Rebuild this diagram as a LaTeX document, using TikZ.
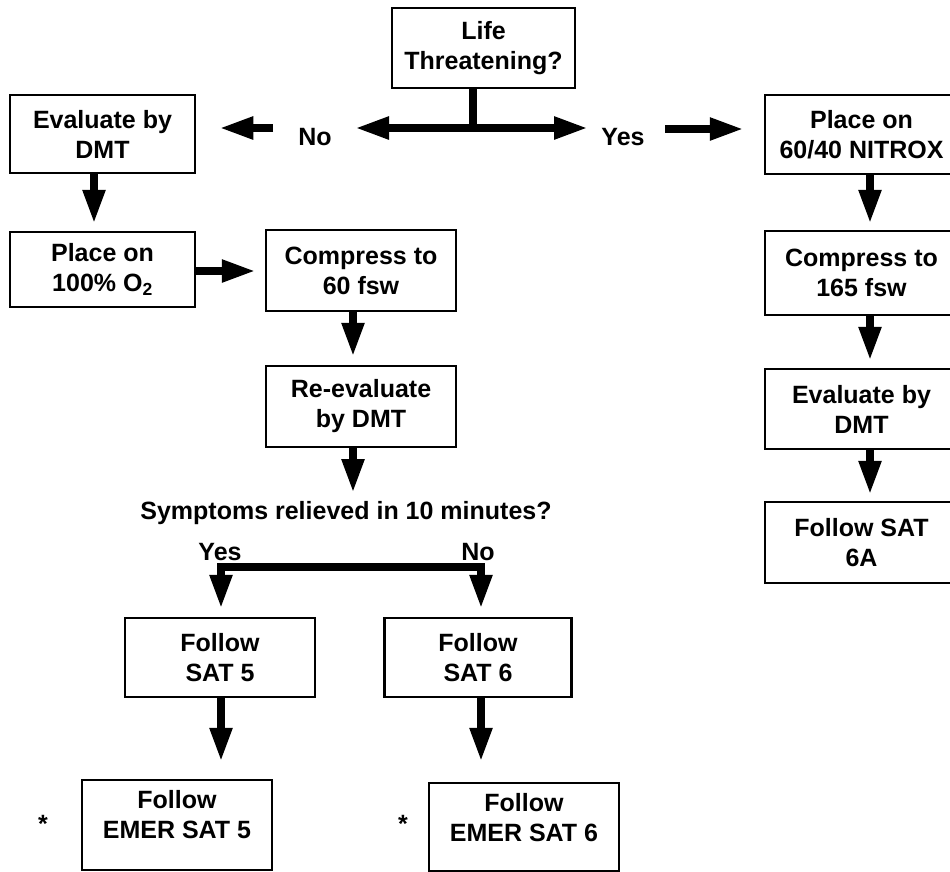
\documentclass[tikz,border=0pt]{standalone}
\usepackage{fontspec}
\setmainfont{Liberation Sans}
\usetikzlibrary{arrows.meta}
\begin{document}
\begin{tikzpicture}[x=1pt,y=-1pt,
  txt/.style={font=\bfseries\fontsize{25}{30}\selectfont, inner sep=0pt, align=center},
  box/.style={txt, draw, line width=2.5pt},
  arr/.style={line width=8pt, line join=miter, -{Triangle[length=34pt,width=21pt]}},
  bar/.style={line width=8pt}]
\useasboundingbox (0,0) rectangle (950,871);
\clip (0,0) rectangle (950,871);

% boxes
\node[box, minimum width=183pt, minimum height=80pt] (life) at (483.5,48) {Life\\Threatening?};
\node[box, minimum width=185pt, minimum height=78pt] (eval) at (102.5,134) {Evaluate by\\DMT};
\node[box, minimum width=193pt, minimum height=79pt] (nitrox) at (861.5,134.5) {Place on\\60/40 NITROX};
\node[box, minimum width=185pt, minimum height=75pt] (o2) at (102.5,269.5) {Place on\\100\% O\textsubscript{2}};
\node[box, minimum width=190pt, minimum height=81pt] (c60) at (361,270.5) {Compress to\\60 fsw};
\node[box, minimum width=190pt, minimum height=81pt] (reev) at (361,406.5) {Re-evaluate\\by DMT};
\node[box, minimum width=193pt, minimum height=84pt] (c165) at (861.5,273) {Compress to\\165 fsw};
\node[box, minimum width=193pt, minimum height=80pt] (evr) at (861.5,409) {Evaluate by\\DMT};
\node[box, minimum width=193pt, minimum height=81pt] (sat6a) at (861.5,542.5) {Follow SAT\\6A};
\node[box, minimum width=190pt, minimum height=79pt] (sat5) at (220,657.5) {Follow\\SAT 5};
\node[box, minimum width=187pt, minimum height=79pt] (sat6) at (478,657.5) {Follow\\SAT 6};
\node[draw, line width=2.5pt, minimum width=190pt, minimum height=90pt] (emer5) at (177,825) {};
\node[draw, line width=2.5pt, minimum width=190pt, minimum height=88pt] (emer6) at (524,827) {};
\node[txt] (emer5t) at (177,815) {Follow\\EMER SAT 5};
\node[txt] (emer6t) at (524,818) {Follow\\EMER SAT 6};

% labels
\node[txt] (no) at (315,137) {No};
\node[txt] (yes) at (623,137) {Yes};
\node[txt] (sympt) at (346,513) {Symptoms relieved in 10 minutes?};
\node[txt] (yes2) at (220,552) {Yes};
\node[txt] (no2) at (478,552) {No};
\node[txt] (star5) at (43,824) {*};
\node[txt] (star6) at (403,824) {*};

% coordinates
\coordinate (stem) at (473,128);
\coordinate (dl) at (355,128);
\coordinate (dr) at (588,128);
\coordinate (ltail) at (273,128);
\coordinate (rtail) at (665,129);
\coordinate (oy) at (0,271);
\coordinate (ax) at (94,0);
\coordinate (mx) at (353,0);
\coordinate (rx) at (870,0);
\coordinate (stip) at (353,493);
\coordinate (barL) at (221,567);
\coordinate (barR) at (481,567);

% connectors
\draw[bar] (life.south -| stem) -- (stem);
\draw[line width=8pt, {Triangle[length=34pt,width=21pt]}-{Triangle[length=34pt,width=21pt]}] (dl) -- (dr);
\draw[arr, shorten >=23pt] (ltail) -- (eval.east |- ltail);
\draw[arr, shorten >=20pt] (rtail) -- (nitrox.west |- rtail);
\draw[arr, shorten >=7pt] (eval.south -| ax) -- (o2.north -| ax);
\draw[arr, shorten >=9pt] (o2.east |- oy) -- (c60.west |- oy);
\draw[arr, shorten >=8pt] (c60.south -| mx) -- (reev.north -| mx);
\draw[arr] (reev.south -| mx) -- (stip);
\draw[arr, shorten >=6pt] (nitrox.south -| rx) -- (c165.north -| rx);
\draw[arr, shorten >=7pt] (c165.south -| rx) -- (evr.north -| rx);
\draw[arr, shorten >=6pt] (evr.south -| rx) -- (sat6a.north -| rx);
\draw[arr, shorten >=8pt] (barR) -- (barL) -- (sat5.north -| barL);
\draw[arr, shorten >=8pt] (barL) -- (barR) -- (sat6.north -| barR);
\draw[arr, shorten >=17pt] (sat5.south -| barL) -- (emer5.north -| barL);
\draw[arr, shorten >=20pt] (sat6.south -| barR) -- (emer6.north -| barR);
\end{tikzpicture}
\end{document}
